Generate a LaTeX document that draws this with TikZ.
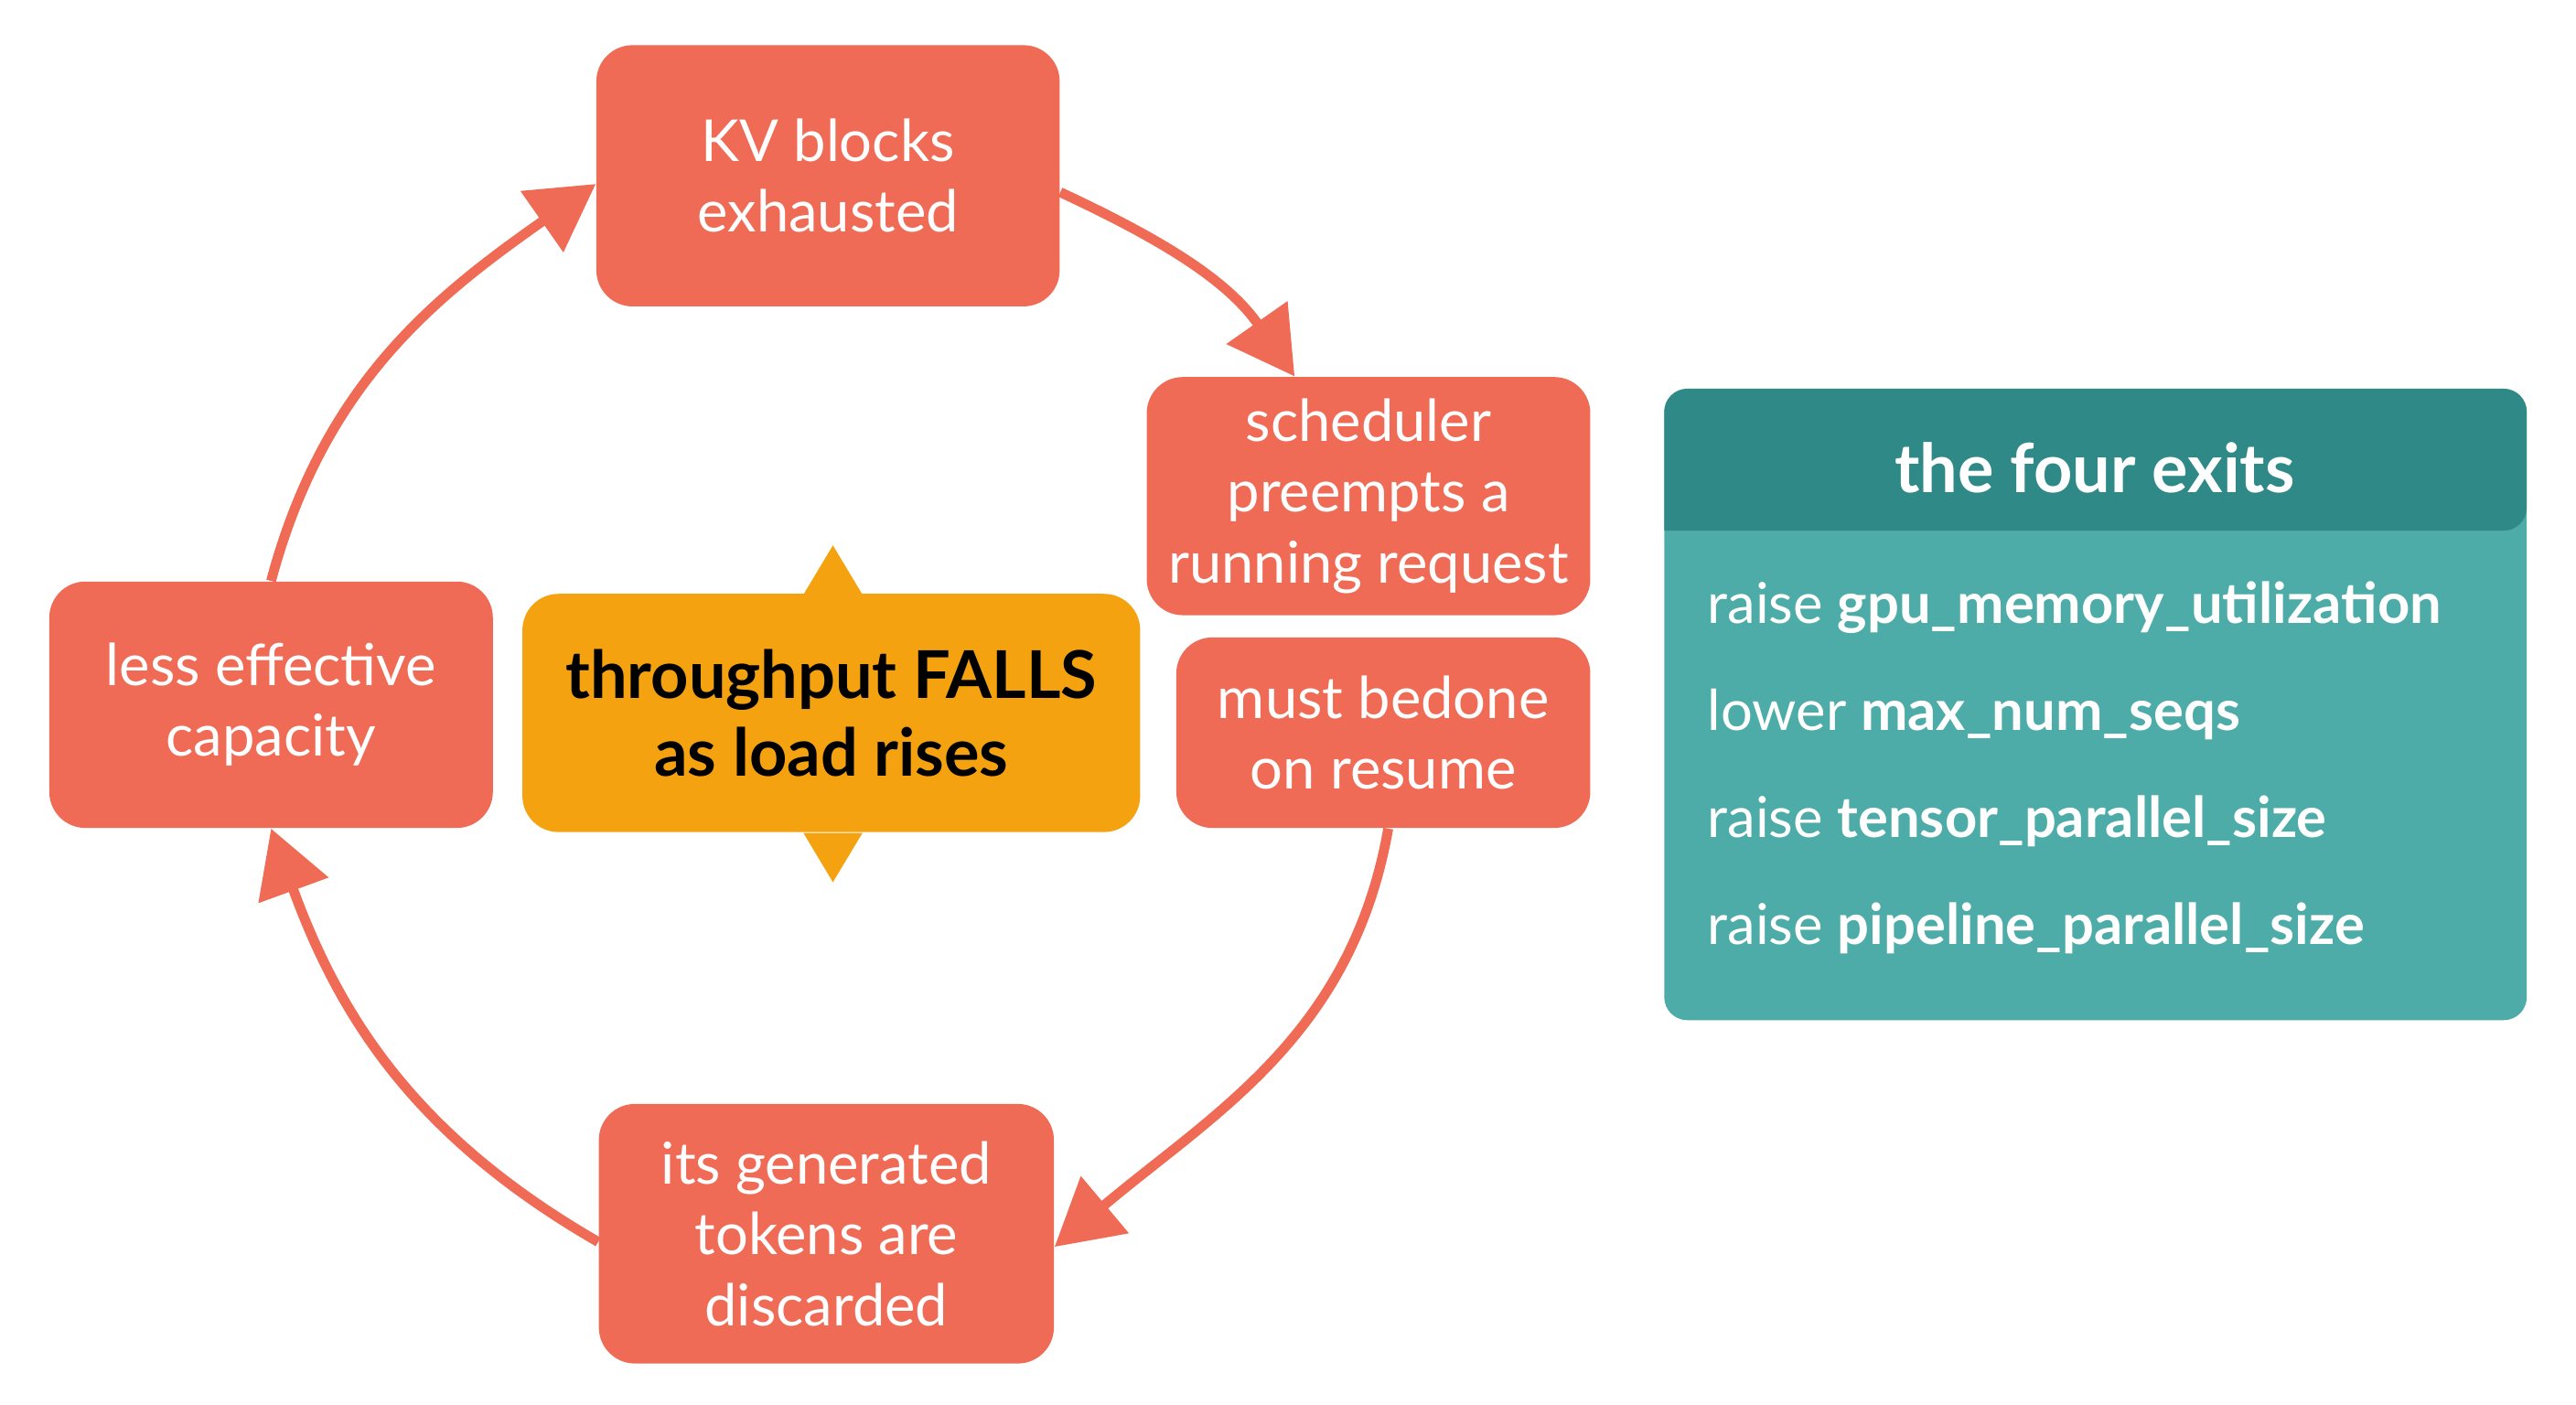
\documentclass[tikz,border=0pt]{standalone}
\usepackage{fontspec}
\setmainfont{Lato}
\usetikzlibrary{arrows.meta, positioning, calc}
\definecolor{coral}{HTML}{F06B55}
\definecolor{amber}{HTML}{F4A20F}
\definecolor{teald}{HTML}{2F8A87}
\definecolor{teall}{HTML}{4EACA8}
\def\u{0.01796cm}
\begin{document}
\begin{tikzpicture}[x=\u, y=-\u,
    stage/.style={fill=coral, text=white, rounded corners=22*\u, align=center,
      font=\fontsize{18}{22}\selectfont, inner sep=0pt},
    cyc/.style={coral, line width=6*\u, -{Triangle[width=44*\u, length=40*\u]}},
    item/.style={anchor=west, text=white, font=\fontsize{17.5}{20}\selectfont, inner sep=0pt}
    ]
    \useasboundingbox (0,0) rectangle (1568,855);

    % cycle
    \node[stage, minimum width=282*\u, minimum height=159*\u] (kv) at (504,107) {KV blocks\\exhausted};
    \node[stage, minimum width=270*\u, minimum height=145*\u] (sched) at (833,302) {scheduler\\preempts a\\running request};
    \node[stage, minimum width=252*\u, minimum height=116*\u] (resume) at (842,446) {must bedone\\on resume};
    \node[stage, minimum width=277*\u, minimum height=158*\u] (discard) at (503,751) {its generated\\tokens are\\discarded};
    \node[stage, minimum width=270*\u, minimum height=150*\u] (less) at (165,429) {less effective\\capacity};

    % centre
    \fill[amber] (489,362) -- (507,332) -- (525,362) -- cycle;
    \fill[amber] (489,507) -- (507,537) -- (525,507) -- cycle;
    \node[fill=amber, rounded corners=22*\u, minimum width=376*\u, minimum height=145*\u,
      align=center, inner sep=0pt, font=\bfseries\fontsize{20.5}{24}\selectfont] (core) at (506,434)
      {throughput FALLS\\as load rises};

    \draw[cyc] ([yshift=-10*\u]kv.east) to[out=-25, in=125] ([xshift=-45*\u]sched.north);
    \draw[cyc] ([xshift=3*\u]resume.south) to[out=-100, in=40] ([yshift=-8*\u]discard.east);
    \draw[cyc] ([yshift=-5*\u]discard.west) to[out=150, in=-70] (less.south);
    \draw[cyc] (less.north) to[out=75, in=-145] ([yshift=-5*\u]kv.west);

    % exits panel
    \node[fill=teall, rounded corners=14*\u, minimum width=525*\u, minimum height=384*\u, inner sep=0pt] (panel) at (1275.5,429) {};
    \fill[teald] (1013,323) [rounded corners=14*\u] |- (panel.north) -| (1538,323) [sharp corners] -- cycle;
    \node[text=white, font=\bfseries\fontsize{21}{24}\selectfont] (head) at (1275,285) {the four exits};
    \node[item] (e1) at (1039,370) {raise \textbf{gpu\_memory\_utilization}};
    \node[item] (e2) at (1039,435) {lower \textbf{max\_num\_seqs}};
    \node[item] (e3) at (1039,500) {raise \textbf{tensor\_parallel\_size}};
    \node[item] (e4) at (1039,565) {raise \textbf{pipeline\_parallel\_size}};
\end{tikzpicture}
\end{document}
